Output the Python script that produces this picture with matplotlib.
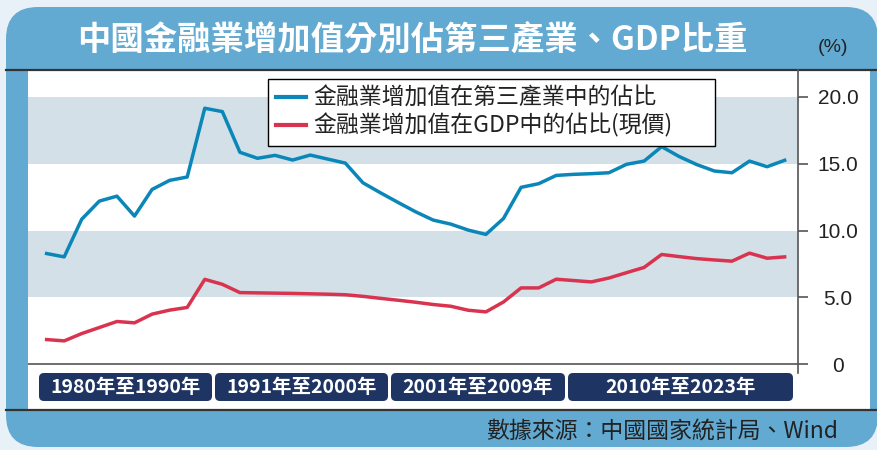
import numpy as np
import matplotlib
matplotlib.use('Agg')
import matplotlib.pyplot as plt
from matplotlib.patches import FancyBboxPatch, Rectangle

plt.rcParams['font.family'] = ['Noto Sans CJK TC', 'DejaVu Sans']

# data (%)
years = np.arange(1980, 2023)
tertiary_share = [8.28, 8.03, 10.85, 12.2, 12.57, 11.08, 13.07, 13.75, 14.0, 19.14,
                  18.89, 15.85, 15.4, 15.62, 15.27, 15.64, 15.34, 15.04, 13.57, 12.82,
                  12.1, 11.4, 10.78, 10.48, 10.03, 9.71, 10.9, 13.23, 13.5, 14.12,
                  14.2, 14.25, 14.32, 14.95, 15.19, 16.27, 15.53, 14.93, 14.45, 14.32,
                  15.19, 14.77, 15.25]
gdp_share = [1.85, 1.75, 2.3, 2.75, 3.2, 3.1, 3.75, 4.05, 4.25, 6.35,
             5.98, 5.36, 5.34, 5.32, 5.3, 5.27, 5.24, 5.2, 5.08, 4.93,
             4.79, 4.64, 4.47, 4.34, 4.04, 3.92, 4.66, 5.71, 5.71, 6.36,
             6.26, 6.16, 6.45, 6.85, 7.24, 8.21, 8.05, 7.9, 7.8, 7.71,
             8.31, 7.93, 8.03]
series_labels = ['金融業增加值在第三產業中的佔比', '金融業增加值在GDP中的佔比(現價)']
period_labels = ['1980年至1990年', '1991年至2000年', '2001年至2009年', '2010年至2023年']
y_ticks = [0, 5, 10, 15, 20]
y_tick_labels = ['0', '5.0', '10.0', '15.0', '20.0']

title = '中國金融業增加值分別佔第三產業、GDP比重'
source = '數據來源：中國國家統計局、Wind'

blue = '#0a87b8'
red = '#d9344f'
band = '#d3e0e8'
panel = '#62aad2'
navy = '#1e3463'

W, H = 877, 450
fig = plt.figure(figsize=(W / 100, H / 100), dpi=100, facecolor='#e9f1f8')

# background layer in pixel coordinates
bg = fig.add_axes([0, 0, 1, 1])
bg.set_xlim(0, W)
bg.set_ylim(H, 0)
bg.axis('off')
bg.add_patch(FancyBboxPatch((6, 7), 872, 440, boxstyle='round,pad=0,rounding_size=32',
                            fc=panel, ec='none'))
bg.add_patch(Rectangle((28, 70), 842, 340, fc='white', ec='none'))
bg.plot([6, 877], [70, 70], color='#333333', lw=1.6)
bg.plot([6, 877], [410, 410], color='#333333', lw=1.6)

bg.text(412, 40, title, color='white', fontsize=24, fontweight='bold', ha='center', va='center')
bg.text(833, 47, '(%)', color='#222222', fontsize=14, family='Liberation Sans', ha='center', va='center')
bg.text(838, 432, source, color='#222222', fontsize=16.5, ha='right', va='center')

# period boxes under the x axis
box_edges = [(39, 212), (215, 388), (391, 565), (568, 793)]
for (x0, x1), lab in zip(box_edges, period_labels):
    bg.add_patch(FancyBboxPatch((x0, 373), x1 - x0, 28, boxstyle='round,pad=0,rounding_size=5',
                                fc=navy, ec='none'))
    bg.text((x0 + x1) / 2, 387.5, lab, color='white', fontsize=14, fontweight='bold',
            ha='center', va='center')

# main chart
left, right, top, bottom = 28, 798, 70, 373
ax = fig.add_axes([left / W, (H - bottom) / H, (right - left) / W, (bottom - top) / H])
ax.set_facecolor('none')
ax.set_xlim(1978.94, 2022.76)
ax.set_ylim(-0.65, 22.0)

ax.axhspan(5, 10, color=band, lw=0, zorder=0)
ax.axhspan(15, 20, color=band, lw=0, zorder=0)

ax.plot(years, tertiary_share, color=blue, lw=2.5, label=series_labels[0], zorder=3)
ax.plot(years, gdp_share, color=red, lw=2.5, label=series_labels[1], zorder=3)

for s in ['left', 'top', 'bottom']:
    ax.spines[s].set_visible(False)
ax.spines['right'].set_color('#555555')
ax.spines['right'].set_linewidth(1.2)
ax.axhline(0, color='#555555', lw=1.2, zorder=2)

ax.set_xticks([])
ax.yaxis.tick_right()
ax.set_yticks(y_ticks)
ax.set_yticklabels(y_tick_labels, family='Liberation Sans', fontsize=15, color='#222222')
ax.tick_params(axis='y', direction='out', length=7.2, width=1.2, color='#555555', pad=21.6)
for lbl in ax.get_yticklabels():
    lbl.set_horizontalalignment('center')

leg = ax.legend(loc='upper left', bbox_to_anchor=(0.3117, 0.7624, 0.5805, 0.2079),
                mode='expand', borderaxespad=0, fontsize=16.5, handlelength=1.3,
                handletextpad=0.35, borderpad=0.35, labelspacing=0.15,
                fancybox=False, framealpha=1, edgecolor='black')
leg.get_frame().set_linewidth(1.0)
for t in leg.get_texts():
    t.set_color('#222222')
for h in leg.get_lines():
    h.set_linewidth(3)

fig.savefig('out.png', dpi=100, facecolor=fig.get_facecolor())
